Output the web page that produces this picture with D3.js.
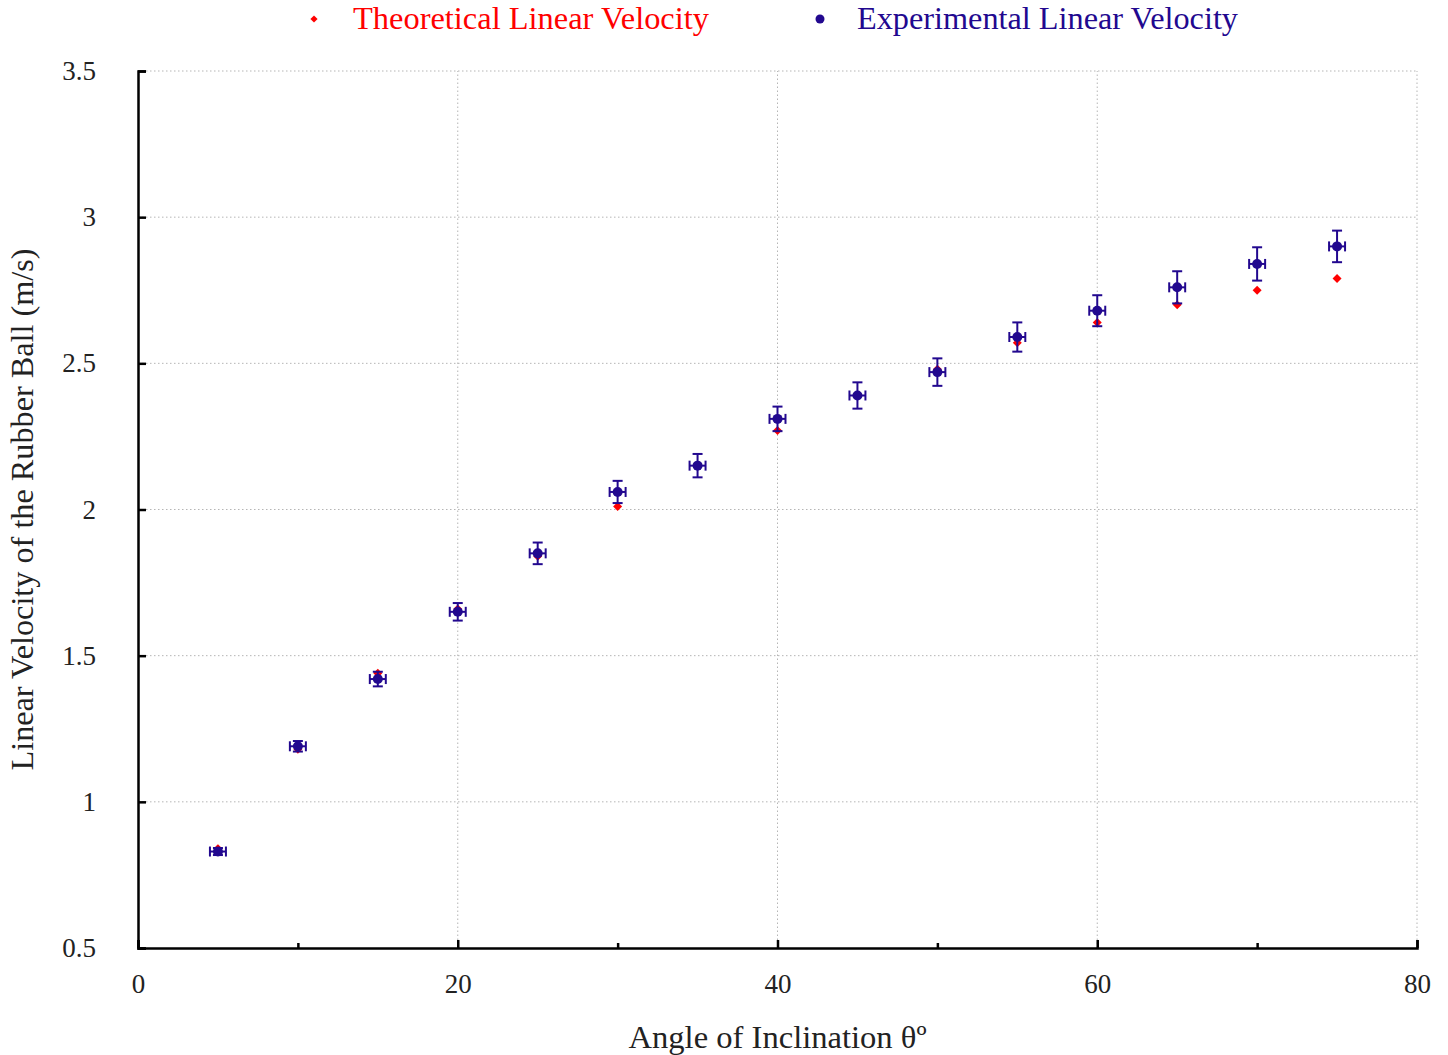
<!DOCTYPE html>
<html>
<head>
<meta charset="utf-8">
<script src="https://cdn.jsdelivr.net/npm/d3@7"></script>
<style>
body { margin: 0; background: white; }
text { font-family: "Liberation Serif", "DejaVu Serif", serif; }
</style>
</head>
<body>
<div id="chart"></div>
<script>
var width = 1448
var height = 1055
var margin = {top: 71, right: 31, bottom: 107, left: 138}

// Data

var angles = [5, 10, 15, 20, 25, 30, 35, 40, 45, 50, 55, 60, 65, 70, 75]
var theoretical = [0.84, 1.18, 1.44, 1.66, 1.84, 2.01, 2.15, 2.27, 2.39, 2.48, 2.57, 2.64, 2.70, 2.75, 2.79]
var experimental = [0.83, 1.19, 1.42, 1.65, 1.85, 2.06, 2.15, 2.31, 2.39, 2.47, 2.59, 2.68, 2.76, 2.84, 2.90]
var expErrY = [0.012, 0.018, 0.025, 0.03, 0.037, 0.038, 0.04, 0.042, 0.045, 0.047, 0.05, 0.053, 0.055, 0.057, 0.054]
var expErrX = [0.5, 0.5, 0.5, 0.5, 0.5, 0.5, 0.5, 0.5, 0.5, 0.5, 0.5, 0.5, 0.5, 0.5, 0.5]
var xTicks = [0, 20, 40, 60, 80]
var xMinorTicks = [10, 30, 50, 70]
var yTicks = [0.5, 1, 1.5, 2, 2.5, 3, 3.5]

var red = "#ff0000"
var blue = "#22088f"

var x_scale = d3.scaleLinear()
    .domain([0, 80])
    .range([margin.left, width - margin.right])

var y_scale = d3.scaleLinear()
    .domain([0.5, 3.5])
    .range([height - margin.bottom, margin.top])

var svg = d3.select("#chart")
    .append("svg")
    .attr("width", width)
    .attr("height", height)
    .style("background-color", "white")

// square turned 45 degrees, so the diamond is as wide as it is tall
var diamond = d3.symbol().type(d3.symbolSquare).size(40)

// Grid

svg.append("g")
    .selectAll("line")
    .data(xTicks.slice(1))
    .enter()
    .append("line")
    .attr("x1", function(d) { return x_scale(d) })
    .attr("x2", function(d) { return x_scale(d) })
    .attr("y1", y_scale(0.5))
    .attr("y2", y_scale(3.5))
    .attr("stroke", "#b5b5b5")
    .attr("stroke-width", 1)
    .attr("stroke-dasharray", "1.5,2.5")

svg.append("g")
    .selectAll("line")
    .data(yTicks.slice(1))
    .enter()
    .append("line")
    .attr("x1", x_scale(0))
    .attr("x2", x_scale(80))
    .attr("y1", function(d) { return y_scale(d) })
    .attr("y2", function(d) { return y_scale(d) })
    .attr("stroke", "#b5b5b5")
    .attr("stroke-width", 1)
    .attr("stroke-dasharray", "1.5,2.5")

// Axes

var xAxis = d3.axisBottom(x_scale)
    .tickValues(xTicks)
    .tickSize(-8)
    .tickPadding(26)
    .tickFormat(d3.format("d"))

var xMinor = d3.axisBottom(x_scale)
    .tickValues(xMinorTicks)
    .tickSize(-5)
    .tickFormat("")

var yAxis = d3.axisLeft(y_scale)
    .tickValues(yTicks)
    .tickSize(-8)
    .tickPadding(42)
    .tickFormat(function(d) { return d3.format("")(d) })

var gx = svg.append("g")
    .attr("transform", "translate(0," + y_scale(0.5) + ")")
    .call(xAxis)

svg.append("g")
    .attr("transform", "translate(0," + y_scale(0.5) + ")")
    .call(xMinor)
    .call(function(g) { g.select(".domain").remove() })

var gy = svg.append("g")
    .attr("transform", "translate(" + x_scale(0) + ",0)")
    .call(yAxis)

svg.selectAll(".domain").attr("stroke", "#000").attr("stroke-width", 2.5)
svg.selectAll(".tick line").attr("stroke", "#000").attr("stroke-width", 2.5)
svg.selectAll(".tick text")
    .attr("fill", "#222")
    .style("font-size", "27px")
    .style("font-family", "'Liberation Serif', serif")

gx.selectAll(".tick text").attr("dy", "0.71em")

// Theoretical points (diamonds)

svg.append("g")
    .selectAll("path")
    .data(angles)
    .enter()
    .append("path")
    .attr("d", diamond)
    .attr("transform", function(d, i) {
        return "translate(" + x_scale(d) + "," + y_scale(theoretical[i]) + ") rotate(45)"
    })
    .attr("fill", red)

// Experimental error bars

var err = svg.append("g")
    .attr("stroke", blue)
    .attr("stroke-width", 2)

angles.forEach(function(d, i) {
    var cx = x_scale(d)
    var cy = y_scale(experimental[i])
    var x0 = x_scale(d - expErrX[i])
    var x1 = x_scale(d + expErrX[i])
    var y0 = y_scale(experimental[i] - expErrY[i])
    var y1 = y_scale(experimental[i] + expErrY[i])
    err.append("line").attr("x1", x0).attr("x2", x1).attr("y1", cy).attr("y2", cy)
    err.append("line").attr("x1", x0).attr("x2", x0).attr("y1", cy - 5).attr("y2", cy + 5)
    err.append("line").attr("x1", x1).attr("x2", x1).attr("y1", cy - 5).attr("y2", cy + 5)
    err.append("line").attr("x1", cx).attr("x2", cx).attr("y1", y0).attr("y2", y1)
    err.append("line").attr("x1", cx - 5).attr("x2", cx + 5).attr("y1", y0).attr("y2", y0)
    err.append("line").attr("x1", cx - 5).attr("x2", cx + 5).attr("y1", y1).attr("y2", y1)
})

svg.append("g")
    .selectAll("circle")
    .data(angles)
    .enter()
    .append("circle")
    .attr("cx", function(d) { return x_scale(d) })
    .attr("cy", function(d, i) { return y_scale(experimental[i]) })
    .attr("r", 5)
    .attr("fill", blue)

// Legend

svg.append("path")
    .attr("d", d3.symbol().type(d3.symbolSquare).size(26))
    .attr("transform", "translate(314,19) rotate(45)")
    .attr("fill", red)

svg.append("text")
    .attr("x", 353)
    .attr("y", 29)
    .attr("fill", red)
    .attr("textLength", 356)
    .attr("lengthAdjust", "spacingAndGlyphs")
    .style("font-size", "31px")
    .text("Theoretical Linear Velocity")

svg.append("circle")
    .attr("cx", 820)
    .attr("cy", 19)
    .attr("r", 4.5)
    .attr("fill", blue)

svg.append("text")
    .attr("x", 857)
    .attr("y", 29)
    .attr("fill", blue)
    .attr("textLength", 381)
    .attr("lengthAdjust", "spacingAndGlyphs")
    .style("font-size", "31px")
    .text("Experimental Linear Velocity")

// Axis titles

svg.append("text")
    .attr("x", x_scale(40))
    .attr("y", 1048)
    .attr("text-anchor", "middle")
    .attr("fill", "#222")
    .attr("textLength", 298)
    .attr("lengthAdjust", "spacingAndGlyphs")
    .style("font-size", "32px")
    .text("Angle of Inclination θº")

svg.append("text")
    .attr("transform", "translate(33," + y_scale(2) + ") rotate(-90)")
    .attr("text-anchor", "middle")
    .attr("fill", "#222")
    .attr("textLength", 522)
    .attr("lengthAdjust", "spacingAndGlyphs")
    .style("font-size", "31px")
    .text("Linear Velocity of the Rubber Ball (m/s)")
</script>
</body>
</html>
